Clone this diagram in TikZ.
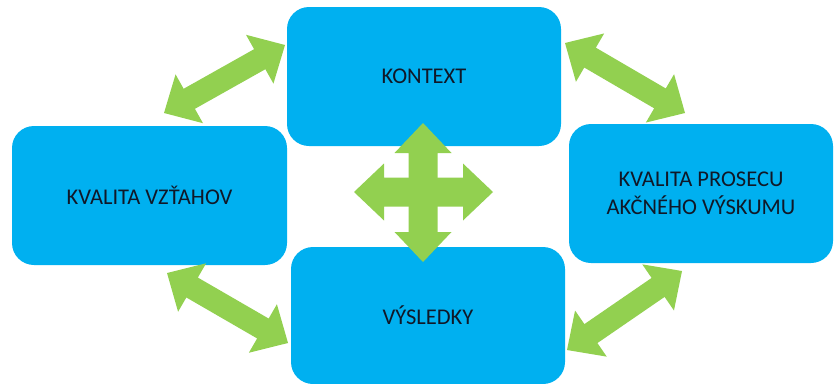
\documentclass[tikz,border=0pt]{standalone}
\usepackage{fontspec}
\setmainfont{Carlito}
\usetikzlibrary{calc}
\definecolor{boxblue}{HTML}{00B0F0}
\definecolor{arrowgreen}{HTML}{92D050}
\definecolor{labelink}{HTML}{101828}

% Block double arrow between two tips:
% #1 tip a, #2 tip b, #3 head length, #4 head half-width, #5 shaft half-width
\newcommand\blockarrow[5]{%
  \fill[arrowgreen] (#1)
    -- ($(#1)!#3!(#2)!#4!90:(#2)$)
    -- ($(#1)!#3!(#2)!#5!90:(#2)$)
    -- ($(#2)!#3!(#1)!#5!-90:(#1)$)
    -- ($(#2)!#3!(#1)!#4!-90:(#1)$)
    -- (#2)
    -- ($(#2)!#3!(#1)!#4!90:(#1)$)
    -- ($(#2)!#3!(#1)!#5!90:(#1)$)
    -- ($(#1)!#3!(#2)!#5!-90:(#2)$)
    -- ($(#1)!#3!(#2)!#4!-90:(#2)$)
    -- cycle;}

\begin{document}
\begin{tikzpicture}[x=1pt, y=-1pt,
  box/.style={fill=boxblue, rounded corners=22pt, text=labelink,
    font=\fontsize{22.5}{28}\selectfont, align=center, inner sep=0pt}]
  \useasboundingbox (0,0) rectangle (834,383);
  \begin{scope}
    \clip (0,0) rectangle (834,383);

    % boxes
    \node[box, minimum width=274pt, minimum height=139pt] (context) at (424,76.5) {KONTEXT};
    \node[box, minimum width=275pt, minimum height=139pt] (relations) at (149.5,195.5) {KVALITA VZŤAHOV};
    \node[box, minimum width=264pt, minimum height=139pt] (process) at (701,193.5) {KVALITA PROSECU\\AKČNÉHO VÝSKUMU};
    \node[box, minimum width=274pt, minimum height=137pt] (results) at (428,315.5) {VÝSLEDKY};

    % arrow tips
    \coordinate (tlA) at (164,113);  \coordinate (tlB) at (285,45);
    \coordinate (trA) at (565,43);   \coordinate (trB) at (685,113);
    \coordinate (blA) at (167,273);  \coordinate (blB) at (288,343);
    \coordinate (brA) at (567,350);  \coordinate (brB) at (682,271);
    \coordinate (cN) at (423,123);   \coordinate (cS) at (423,262);
    \coordinate (cW) at (354,192);   \coordinate (cE) at (493,192);

    % diagonal double arrows between the boxes
    \blockarrow{tlA}{tlB}{29pt}{28pt}{11.5pt}
    \blockarrow{trA}{trB}{29pt}{28pt}{11.5pt}
    \blockarrow{blA}{blB}{29pt}{28pt}{11.5pt}
    \blockarrow{brA}{brB}{29pt}{28pt}{11.5pt}

    % central four-way arrow
    \blockarrow{cN}{cS}{30pt}{28.5pt}{14.5pt}
    \blockarrow{cW}{cE}{30pt}{28.5pt}{14.5pt}
  \end{scope}
\end{tikzpicture}
\end{document}
